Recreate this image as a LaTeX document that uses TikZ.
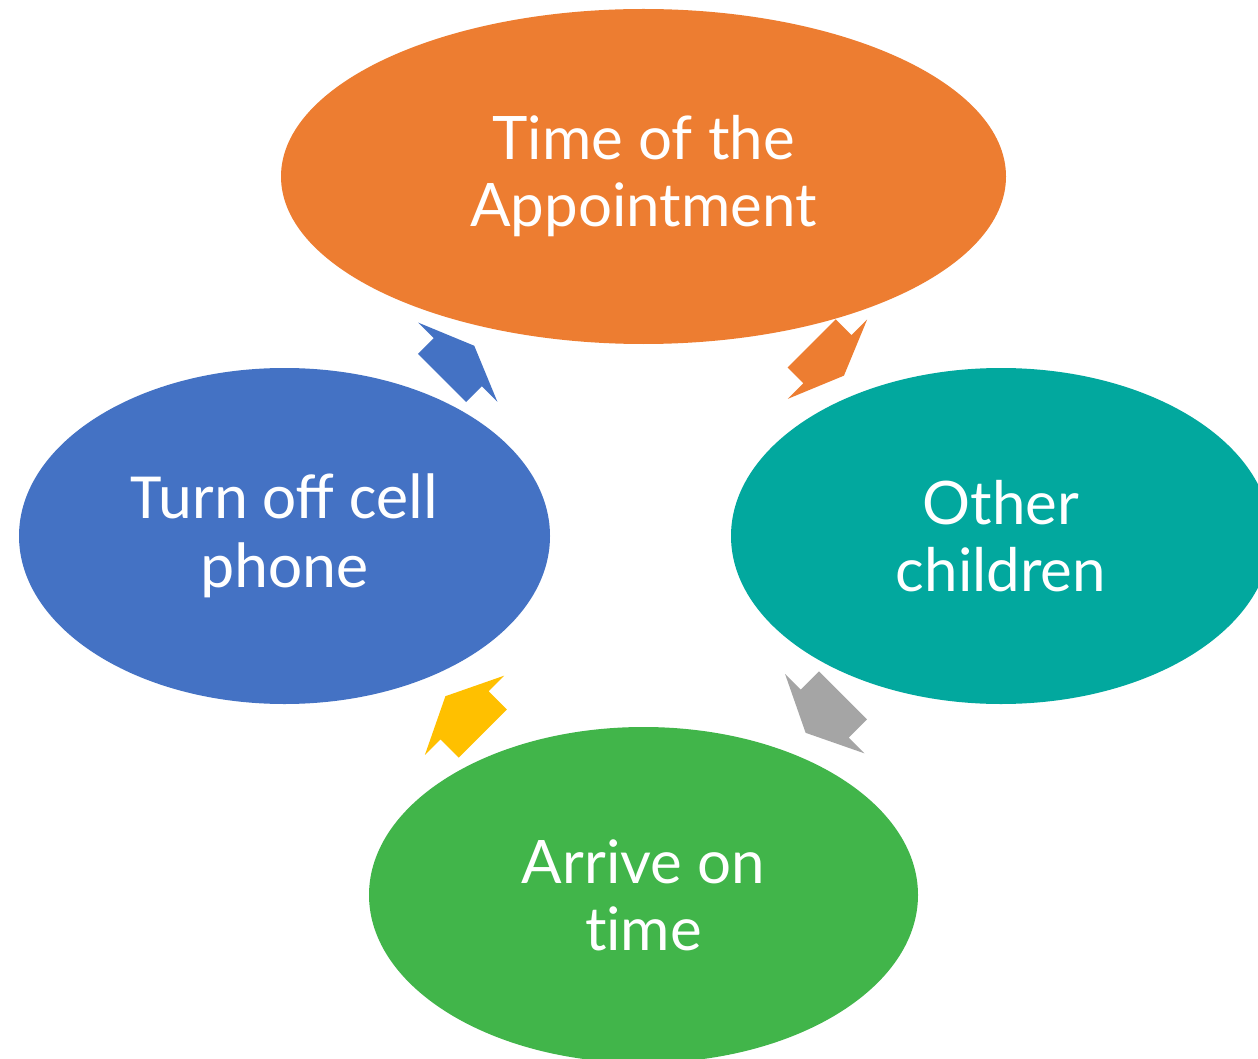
\documentclass[tikz,border=0pt]{standalone}
\usepackage{fontspec}
\usetikzlibrary{shapes.geometric}
\setmainfont{Lato}[Ligatures=NoCommon]
\newfontfamily\calfont{Carlito}
\definecolor{cOrange}{HTML}{ED7D31}
\definecolor{cBlue}{HTML}{4472C4}
\definecolor{cTeal}{HTML}{02A89E}
\definecolor{cGreen}{HTML}{41B54A}
\definecolor{cGray}{HTML}{A5A5A5}
\definecolor{cYellow}{HTML}{FFC000}
\tikzset{
  bubble/.style={ellipse, inner sep=0pt, text=white, align=center,
    font=\fontsize{60}{67}\selectfont},
  cyc/.pic={\fill[pic actions] (-24,-34) -- (0,-34) -- (0,-56) -- (25,0) -- (0,56) -- (0,34) -- (-24,34) -- cycle;}
}
\begin{document}
\begin{tikzpicture}[x=1pt,y=-1pt]
\useasboundingbox (0,0) rectangle (1258,1059);
\clip (0,0) rectangle (1258,1059);
\fill[white] (0,0) rectangle (1258,1059);
\node[bubble, fill=cOrange, minimum width=725pt, minimum height=335pt] (top) at (643.5,176.5) {Time of the\\Appointment};
\node[bubble, fill=cBlue, minimum width=531pt, minimum height=336pt, font=\calfont\fontsize{64.5}{69}\selectfont] (left) at (284.5,536) {Turn off cell\\phone};
\node[bubble, fill=cTeal, minimum width=540pt, minimum height=336pt] (right) at (1001,536) {Other\\children};
\node[bubble, fill=cGreen, minimum width=549pt, minimum height=336pt] (bottom) at (643.5,895) {Arrive on\\time};
\pic[fill=cBlue, rotate=45, xscale=0.93] (a1) at (457.8,362.2) {cyc};
\pic[fill=cOrange, rotate=-45, xscale=0.93] (a2) at (827.5,359.2) {cyc};
\pic[fill=cGray, rotate=-135, xscale=1.08] (a3) at (824.7,713.7) {cyc};
\pic[fill=cYellow, rotate=135, xscale=1.08] (a4) at (464.5,715.3) {cyc};
\end{tikzpicture}
\end{document}
